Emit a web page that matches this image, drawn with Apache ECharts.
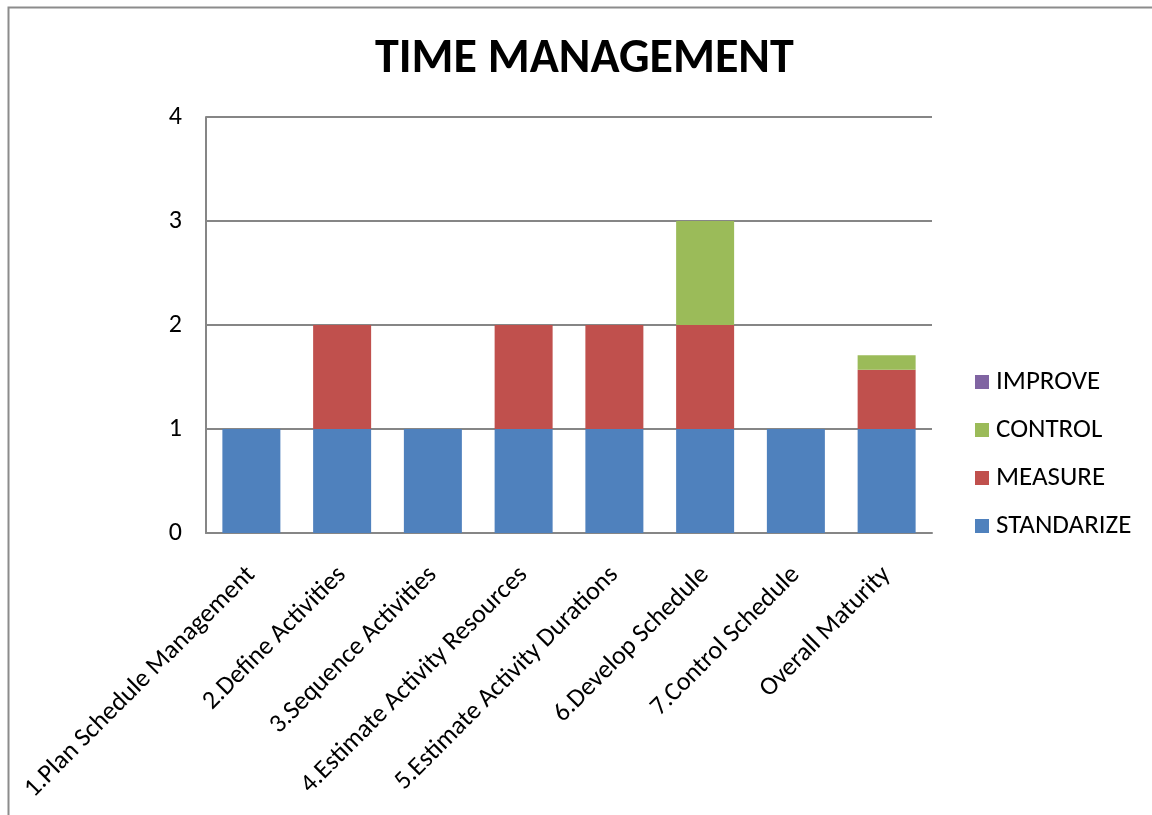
<!DOCTYPE html>
<html>
<head>
<meta charset="utf-8">
<title>TIME MANAGEMENT</title>
<script src="https://cdn.jsdelivr.net/npm/echarts@6/dist/echarts.min.js"></script>
<style>
  html, body { margin: 0; padding: 0; background: #ffffff; }
  #chart { width: 1152px; height: 815px; }
</style>
</head>
<body>
<div id="chart"></div>
<script>
// Process areas of the time-management knowledge area
const categories = [
  '1.Plan Schedule Management',
  '2.Define Activities',
  '3.Sequence Activities',
  '4.Estimate Activity Resources',
  '5.Estimate Activity Durations',
  '6.Develop Schedule',
  '7.Control Schedule',
  'Overall Maturity'
];

// Maturity level contributions per process (stacked)
const standarize = [1, 1, 1, 1, 1, 1, 1, 1];
const measure    = [0, 1, 0, 1, 1, 1, 0, 0.57];
const control    = [0, 0, 0, 0, 0, 1, 0, 0.14];
const improve    = [0, 0, 0, 0, 0, 0, 0, 0];

const yTicks = [0, 1, 2, 3, 4];

const FONT = 'Carlito, Lato, sans-serif';
const colors = {
  STANDARIZE: '#4f81bd',
  MEASURE: '#c0504d',
  CONTROL: '#9bbb59',
  IMPROVE: '#8064a2'
};

const chart = echarts.init(document.getElementById('chart'));

function barSeries(name, data) {
  return {
    name: name,
    type: 'bar',
    stack: 'maturity',
    data: data,
    barWidth: 58,
    itemStyle: { color: colors[name] },
    emphasis: { disabled: true }
  };
}

chart.setOption({
  animation: false,
  backgroundColor: '#ffffff',
  textStyle: { fontFamily: FONT },
  title: {
    text: 'TIME MANAGEMENT',
    left: 375,
    top: 36,
    textStyle: { fontFamily: FONT, fontSize: 48, fontWeight: 'bold', color: '#000000' },
    padding: 0
  },
  legend: {
    orient: 'vertical',
    left: 975,
    top: 368,
    padding: 0,
    itemWidth: 14,
    itemHeight: 14,
    itemGap: 20,
    icon: 'rect',
    data: ['IMPROVE', 'CONTROL', 'MEASURE', 'STANDARIZE'],
    textStyle: { fontFamily: FONT, fontSize: 27, color: '#000000', lineHeight: 28, padding: [0, 0, 0, 2] }
  },
  grid: {
    left: 206,
    right: 220,
    top: 117,
    bottom: 282
  },
  xAxis: {
    type: 'category',
    data: categories,
    axisLine: { show: true, lineStyle: { color: '#868686', width: 2 } },
    axisTick: { show: false },
    axisLabel: {
      rotate: 45,
      interval: 0,
      margin: 38,
      fontFamily: FONT,
      fontSize: 26,
      color: '#000000'
    }
  },
  yAxis: {
    type: 'value',
    min: yTicks[0],
    max: yTicks[yTicks.length - 1],
    interval: 1,
    axisLine: { show: true, lineStyle: { color: '#868686', width: 2 } },
    axisTick: { show: false },
    splitLine: { show: true, lineStyle: { color: '#868686', width: 2 } },
    axisLabel: {
      margin: 24,
      fontFamily: FONT,
      fontSize: 26,
      color: '#000000'
    }
  },
  graphic: [
    {
      type: 'rect',
      left: 6,
      top: 5,
      shape: { x: 0, y: 0, width: 1200, height: 900 },
      style: { fill: 'none', stroke: '#8c8c8c', lineWidth: 2 },
      silent: true
    }
  ],
  series: [
    barSeries('STANDARIZE', standarize),
    barSeries('MEASURE', measure),
    barSeries('CONTROL', control),
    barSeries('IMPROVE', improve)
  ]
});
</script>
</body>
</html>
